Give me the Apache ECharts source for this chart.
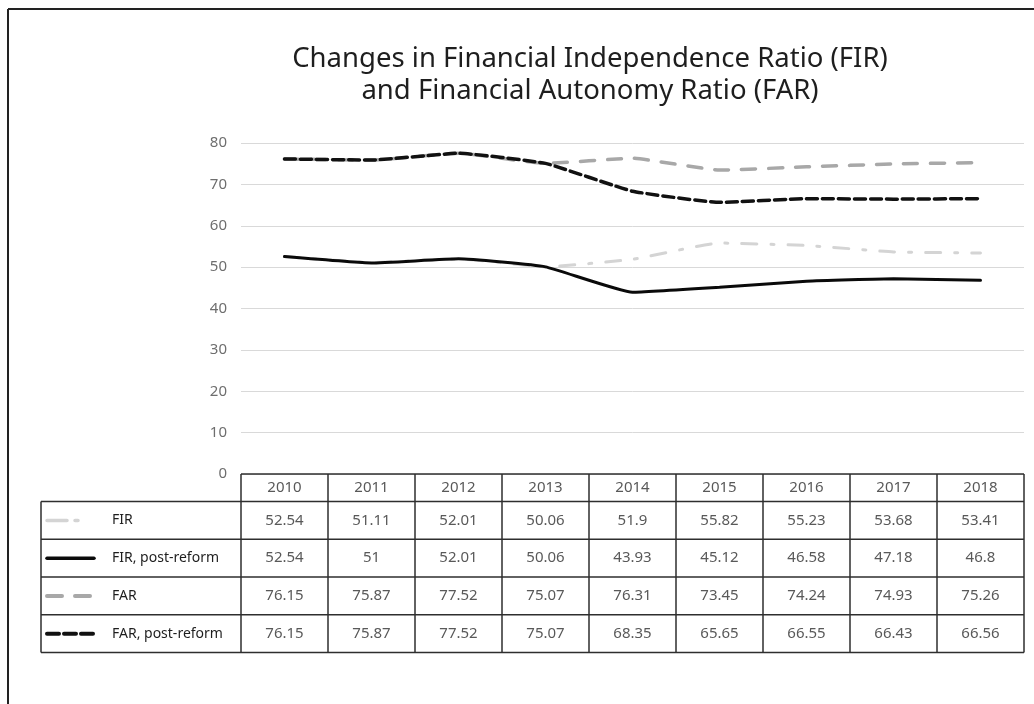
<!DOCTYPE html>
<html><head><meta charset="utf-8">
<script src="https://cdn.jsdelivr.net/npm/echarts@6/dist/echarts.min.js"></script>
<style>html,body{margin:0;padding:0;background:#fff}#c{width:1034px;height:704px}</style>
</head><body><div id="c"></div>
<script>
// ---- data ----
const titleLines = ['Changes in Financial Independence Ratio (FIR)', 'and Financial Autonomy Ratio (FAR)'];
const years = ['2010','2011','2012','2013','2014','2015','2016','2017','2018'];
const fir      = [52.54, 51.11, 52.01, 50.06, 51.9, 55.82, 55.23, 53.68, 53.41];
const firPost  = [52.54, 51, 52.01, 50.06, 43.93, 45.12, 46.58, 47.18, 46.8];
const far      = [76.15, 75.87, 77.52, 75.07, 76.31, 73.45, 74.24, 74.93, 75.26];
const farPost  = [76.15, 75.87, 77.52, 75.07, 68.35, 65.65, 66.55, 66.43, 66.56];
const seriesNames = ['FIR', 'FIR, post-reform', 'FAR', 'FAR, post-reform'];
const yMin = 0, yMax = 80, yStep = 10;

// ---- styles ----
const FONT = '"Noto Sans", "Open Sans", sans-serif';
const styles = [
  {color: '#d4d4d4', width: 3, dash: [15, 14, 3, 14]},
  {color: '#0a0a0a', width: 3, dash: null},
  {color: '#a8a8a8', width: 3.5, dash: [14, 13]},
  {color: '#111111', width: 3.5, dash: [11, 5]}
];
const rowsData = [fir, firPost, far, farPost];

const chart = echarts.init(document.getElementById('c'), null, {renderer: 'canvas'});
const seriesOrder = [0, 2, 1, 3];
chart.setOption({
  animation: false,
  backgroundColor: '#fff',
  grid: {left: 241, right: 10, top: 143, bottom: 230},
  xAxis: {
    type: 'category', data: years, boundaryGap: true,
    axisLine: {show: false}, axisTick: {show: false},
    axisLabel: {color: '#595959', fontSize: 15, fontFamily: FONT, margin: 6}
  },
  yAxis: {
    type: 'value', min: yMin, max: yMax, interval: yStep,
    axisLine: {show: false}, axisTick: {show: false},
    axisLabel: {color: '#6e6e6e', fontSize: 15, fontFamily: FONT, margin: 14},
    splitLine: {lineStyle: {color: '#d9d9d9', width: 1}}
  },
  series: seriesOrder.map(i => ({
    name: seriesNames[i], type: 'line', data: rowsData[i],
    symbol: 'none', smooth: 0.12,
    lineStyle: {color: styles[i].color, width: styles[i].width, type: styles[i].dash || 'solid', cap: 'round'},
    z: 2 + (i % 2)
  }))
});

function build() {
  const g = [];
  const n = years.length;
  const c0 = chart.convertToPixel({xAxisIndex: 0}, 0);
  const c1 = chart.convertToPixel({xAxisIndex: 0}, 1);
  const bw = c1 - c0;
  const left = c0 - bw / 2, right = left + bw * n;
  const top = chart.convertToPixel({yAxisIndex: 0}, yMin);
  const headH = 27.5, rowH = 37.75;
  const tblLeft = 41;
  const bottom = top + headH + rowH * 4;
  const stroke = '#2e2e2e', lw = 1.5;
  const line = (x1, y1, x2, y2, extra) => g.push({type: 'line', silent: true, z: 10,
    shape: {x1, y1, x2, y2}, style: Object.assign({stroke, lineWidth: lw}, extra || {})});
  // frame of figure
  line(8, 9, 1034, 9, {lineWidth: 2, stroke: '#222'});
  line(8, 9, 8, 704, {lineWidth: 2, stroke: '#222'});
  // header row
  line(left, top, right, top);
  for (let i = 0; i <= n; i++) line(left + i * bw, top, left + i * bw, bottom);
  // body rows
  for (let r = 0; r <= 4; r++) {
    const y = top + headH + r * rowH;
    line(tblLeft, y, right, y);
  }
  line(tblLeft, top + headH, tblLeft, bottom);
  // cells
  for (let r = 0; r < 4; r++) {
    const cy = top + headH + (r + 0.5) * rowH;
    rowsData[r].forEach((v, i) => {
      g.push({type: 'text', silent: true, z: 10, x: left + (i + 0.5) * bw, y: cy,
        style: {text: String(v), fill: '#595959', fontSize: 15, fontFamily: FONT,
          textAlign: 'center', align: 'center', textVerticalAlign: 'middle', verticalAlign: 'middle'}});
    });
    g.push({type: 'text', silent: true, z: 10, x: 112, y: cy,
      style: {text: seriesNames[r], fill: '#1e1e1e', fontSize: 14, fontFamily: FONT,
        textAlign: 'left', align: 'left', textVerticalAlign: 'middle', verticalAlign: 'middle'}});
    const s = styles[r];
    const sx1 = 47, sx2 = r === 0 ? 80 : (r === 2 ? 91 : 94);
    g.push({type: 'line', silent: true, z: 10, shape: {x1: sx1, y1: cy, x2: sx2, y2: cy},
      style: {stroke: s.color, lineWidth: s.width + 0.5, lineDash: s.dash ? (r === 0 ? [20, 8, 3, 8] : (r === 2 ? [15, 13] : [12, 5])) : null, lineCap: 'round'}});
  }
  // title
  g.push({type: 'text', silent: true, z: 10, x: 590, y: 59.5,
    style: {text: titleLines[0], fill: '#1e1e1e', fontSize: 27.5, fontFamily: FONT,
      textAlign: 'center', align: 'center', textVerticalAlign: 'middle', verticalAlign: 'middle'}});
  g.push({type: 'text', silent: true, z: 10, x: 590, y: 91.5,
    style: {text: titleLines[1], fill: '#1e1e1e', fontSize: 27.5, fontFamily: FONT,
      textAlign: 'center', align: 'center', textVerticalAlign: 'middle', verticalAlign: 'middle'}});
  chart.setOption({graphic: {elements: g}});
}
build();
</script></body></html>
